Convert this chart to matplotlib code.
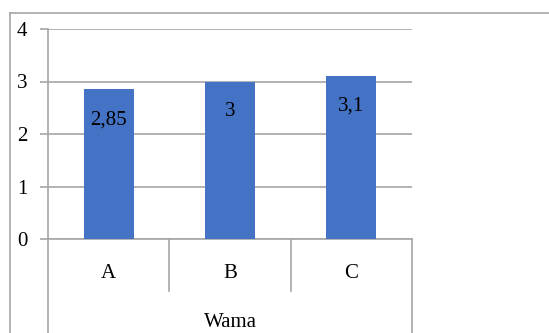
import matplotlib
matplotlib.use("Agg")
import matplotlib.pyplot as plt
from matplotlib.lines import Line2D
import numpy as np

# data
categories = ["A", "B", "C"]
values = [2.85, 3.0, 3.1]
value_labels = ["2,85", "3", "3,1"]
group_label = "Wama"

plt.rcParams['font.family'] = ['Liberation Serif', 'DejaVu Serif']

W, H = 549, 333
fig = plt.figure(figsize=(W / 100, H / 100), dpi=100)

# plot area in pixels
left, right, top, bottom = 48, 412, 29, 239
ax = fig.add_axes([left / W, (H - bottom) / H, (right - left) / W, (bottom - top) / H])

grid_col = "#a6a6a6"
bar_col = "#4472c4"
fs = 15

x = np.arange(len(categories))
bars = ax.bar(x, values, width=0.41, color=bar_col, zorder=3)
ax.set_xlim(-0.5, len(categories) - 0.5)
ax.set_ylim(0, 4)
ax.set_yticks([0, 1, 2, 3, 4])
ax.yaxis.grid(True, color=grid_col, linewidth=1.2, zorder=0)
ax.set_xticks([])
ax.tick_params(axis='y', length=5.8, width=1.2, color=grid_col, pad=9, labelsize=fs)

for s in ["top", "right"]:
    ax.spines[s].set_visible(False)
ax.spines["left"].set_color(grid_col)
ax.spines["bottom"].set_color(grid_col)
ax.spines["left"].set_linewidth(1.2)
ax.spines["bottom"].set_linewidth(1.2)

# value labels inside the bars
for b, lab in zip(bars, value_labels):
    ax.annotate(lab, (b.get_x() + b.get_width() / 2, b.get_height()),
                xytext=(0, -25), textcoords="offset points",
                ha="center", va="baseline", fontsize=fs, zorder=4)

# category table under the axis
trans = ax.get_xaxis_transform()
def to_ax(py):
    return -(py - bottom) / (bottom - top)

for xs in x[:-1] + 0.5:
    ax.plot([xs, xs], [0, to_ax(291)], color=grid_col, lw=1.2, transform=trans, clip_on=False)
for xs in [-0.5, len(categories) - 0.5]:
    ax.plot([xs, xs], [0, to_ax(H)], color=grid_col, lw=1.2, transform=trans, clip_on=False)
for xi, c in zip(x, categories):
    ax.text(xi, to_ax(278), c, transform=trans, ha="center", va="baseline", fontsize=fs)
ax.text((len(categories) - 1) / 2, to_ax(327), group_label,
        transform=trans, ha="center", va="baseline", fontsize=fs)

# outer chart frame (cropped)
fig.add_artist(Line2D([10 / W, 1], [(H - 13) / H] * 2, color=grid_col, lw=1.2))
fig.add_artist(Line2D([10 / W] * 2, [0, (H - 13) / H], color=grid_col, lw=1.2))

fig.savefig("out.png", dpi=100)
